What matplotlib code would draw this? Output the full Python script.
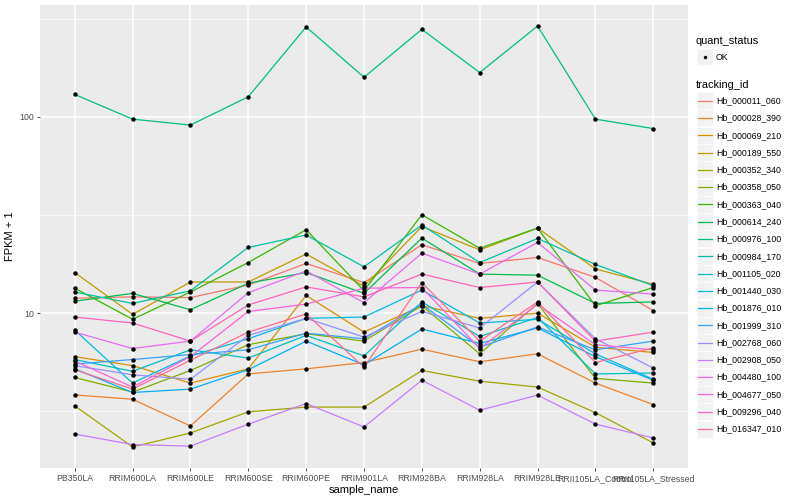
import numpy as np
import matplotlib
matplotlib.use("Agg")
import matplotlib.pyplot as plt
from matplotlib.patches import Rectangle
from matplotlib.lines import Line2D
from matplotlib.ticker import FixedLocator, NullFormatter

plt.rcParams['font.family'] = ['Liberation Sans', 'DejaVu Sans']

samples = ['PB350LA', 'RRIM600LA', 'RRIM600LE', 'RRIM600SE', 'RRIM600PE', 'RRIM901LA',
           'RRIM928BA', 'RRIM928LA', 'RRIM928LE', 'RRII105LA_Control', 'RRII105LA_Stressed']

tracking_ids = ['Hb_000011_060', 'Hb_000028_390', 'Hb_000069_210', 'Hb_000189_550',
                'Hb_000352_340', 'Hb_000358_050', 'Hb_000363_040', 'Hb_000614_240',
                'Hb_000976_100', 'Hb_000984_170', 'Hb_001105_020', 'Hb_001440_030',
                'Hb_001876_010', 'Hb_001999_310', 'Hb_002768_060', 'Hb_002908_050',
                'Hb_004480_100', 'Hb_004677_050', 'Hb_009296_040', 'Hb_016347_010']

# FPKM + 1 per gene, one value per sample
hb_000011_060 = [11.9, 12.1, 12.0, 13.9, 17.9, 14.3, 22.3, 17.9, 19.2, 15.2, 10.3]
hb_000028_390 = [3.83, 3.64, 2.66, 4.9, 5.2, 5.6, 6.55, 5.65, 6.2, 4.4, 3.42]
hb_000069_210 = [6.0, 5.4, 4.4, 5.2, 12.3, 8.0, 10.9, 9.4, 10.0, 6.7, 6.3]
hb_000189_550 = [16.1, 9.85, 14.4, 14.4, 20.0, 13.7, 27.6, 21.0, 27.1, 16.8, 14.0]
hb_000352_340 = [3.37, 2.08, 2.45, 3.14, 3.32, 3.32, 5.1, 4.5, 4.2, 3.11, 2.18]
hb_000358_050 = [4.7, 3.96, 5.1, 6.9, 7.85, 7.2, 10.9, 6.2, 11.2, 4.65, 4.4]
hb_000363_040 = [13.4, 9.3, 12.8, 18.1, 26.6, 13.0, 31.7, 21.4, 27.1, 10.9, 13.5]
hb_000614_240 = [11.5, 12.6, 10.4, 14.2, 16.1, 12.6, 24.1, 15.8, 15.6, 11.2, 11.4]
hb_000976_100 = [130, 97.3, 90.8, 126.5, 287, 159, 279, 168, 290, 97.3, 87.1]
hb_000984_170 = [12.8, 11.2, 13.0, 21.6, 25.0, 17.2, 28.1, 18.1, 24.0, 17.7, 13.8]
hb_001105_020 = [5.8, 5.05, 6.5, 5.9, 7.7, 6.05, 11.4, 7.6, 9.5, 4.9, 4.95]
hb_001440_030 = [8.2, 4.4, 6.05, 7.4, 9.4, 9.55, 13.1, 8.9, 9.3, 6.2, 4.6]
hb_001876_010 = [5.2, 3.94, 4.1, 5.15, 7.2, 5.45, 8.3, 7.0, 8.4, 6.0, 4.55]
hb_001999_310 = [5.5, 5.8, 6.15, 6.5, 7.9, 7.4, 11.1, 6.7, 8.5, 6.5, 7.2]
hb_002768_060 = [5.4, 4.85, 4.6, 7.7, 9.4, 7.55, 10.2, 8.4, 14.4, 7.4, 5.25]
hb_002908_050 = [2.42, 2.14, 2.10, 2.72, 3.46, 2.63, 4.55, 3.2, 3.82, 2.72, 2.31]
hb_004480_100 = [8.0, 6.6, 7.2, 12.7, 16.4, 11.3, 20.2, 15.8, 22.9, 13.1, 12.5]
hb_004677_050 = [5.7, 4.2, 6.0, 10.2, 11.1, 13.4, 13.5, 6.6, 11.1, 6.9, 6.5]
hb_009296_040 = [9.55, 8.9, 7.2, 11.0, 13.6, 12.1, 15.8, 13.5, 14.4, 7.2, 8.0]
hb_016347_010 = [5.15, 4.1, 5.75, 8.0, 9.9, 5.3, 14.3, 7.2, 11.4, 5.6, 6.65]

series = [hb_000011_060, hb_000028_390, hb_000069_210, hb_000189_550, hb_000352_340,
          hb_000358_050, hb_000363_040, hb_000614_240, hb_000976_100, hb_000984_170,
          hb_001105_020, hb_001440_030, hb_001876_010, hb_001999_310, hb_002768_060,
          hb_002908_050, hb_004480_100, hb_004677_050, hb_009296_040, hb_016347_010]

# ggplot2 default hue palette for 20 levels
colors = ['#F8766D', '#EA8331', '#D89000', '#C09B00', '#A3A500', '#7CAE00', '#39B600',
          '#00BB4E', '#00BF7D', '#00C1A3', '#00BFC4', '#00BAE0', '#00B0F6', '#35A2FF',
          '#9590FF', '#C77CFF', '#E76BF3', '#FA62DB', '#FF62BC', '#FF6C91']

fig = plt.figure(figsize=(8, 5), dpi=100)
ax = fig.add_axes([0.05, 0.064, 0.81, 0.926])
ax.set_facecolor('#EBEBEB')

x = np.arange(len(samples))
for vals, col in zip(series, colors):
    ax.plot(x, vals, color=col, lw=0.9, zorder=3)
for vals in series:
    ax.plot(x, vals, 'o', color='black', ms=3.2, mew=0, zorder=4)

ax.set_yscale('log')
allv = np.log10(np.concatenate([np.array(s, float) for s in series]))
lo, hi = allv.min(), allv.max()
pad = 0.05 * (hi - lo)
ax.set_ylim(10 ** (lo - pad), 10 ** (hi + pad))
ax.set_xlim(-0.6, len(samples) - 0.4)

ax.yaxis.set_major_locator(FixedLocator([10, 100]))
ax.yaxis.set_minor_locator(FixedLocator([10 ** 0.5, 10 ** 1.5, 10 ** 2.5]))
ax.yaxis.set_minor_formatter(NullFormatter())
ax.set_yticklabels(['10', '100'])
ax.set_xticks(x)
ax.set_xticklabels(samples)

ax.grid(True, which='major', color='white', lw=1.1, zorder=1)
ax.grid(True, which='minor', axis='y', color='white', lw=0.5, zorder=1)
ax.set_axisbelow(True)
for s in ax.spines.values():
    s.set_visible(False)
ax.tick_params(which='major', length=2.5, width=0.6, color='#333333', labelcolor='#4D4D4D',
               labelsize=6.3, pad=2)
ax.tick_params(which='minor', length=0)

ax.set_xlabel('sample_name', fontsize=8, color='black', labelpad=1.5)
ax.set_ylabel('FPKM + 1', fontsize=8, color='black', labelpad=3)

# legend, drawn by hand in figure pixels
W, H = 800, 500


def fx(px):
    return px / W


def fy(py):
    return 1 - py / H


fig.text(fx(696), fy(41), 'quant_status', fontsize=7.9, va='center', ha='left')
fig.patches.append(Rectangle((fx(697), fy(65)), 16 / W, 16 / H, transform=fig.transFigure,
                             facecolor='#F2F2F2', edgecolor='white', lw=0.5))
fig.lines.append(Line2D([fx(705)], [fy(57)], marker='o', ms=2.5, color='black', mew=0,
                        transform=fig.transFigure))
fig.text(fx(716), fy(57), 'OK', fontsize=6.3, va='center', ha='left')

fig.text(fx(696), fy(85), 'tracking_id', fontsize=7.9, va='center', ha='left')
for i, (tid, col) in enumerate(zip(tracking_ids, colors)):
    yc = 100.7 + i * 17.28
    fig.patches.append(Rectangle((fx(697), fy(yc + 8.5)), 16 / W, 17 / H,
                                 transform=fig.transFigure, facecolor='#F2F2F2',
                                 edgecolor='white', lw=0.5))
    fig.lines.append(Line2D([fx(698), fx(712)], [fy(yc), fy(yc)], color=col, lw=0.9,
                            transform=fig.transFigure))
    fig.text(fx(716), fy(yc), tid, fontsize=6.3, va='center', ha='left')

fig.savefig('out.png', dpi=100)
